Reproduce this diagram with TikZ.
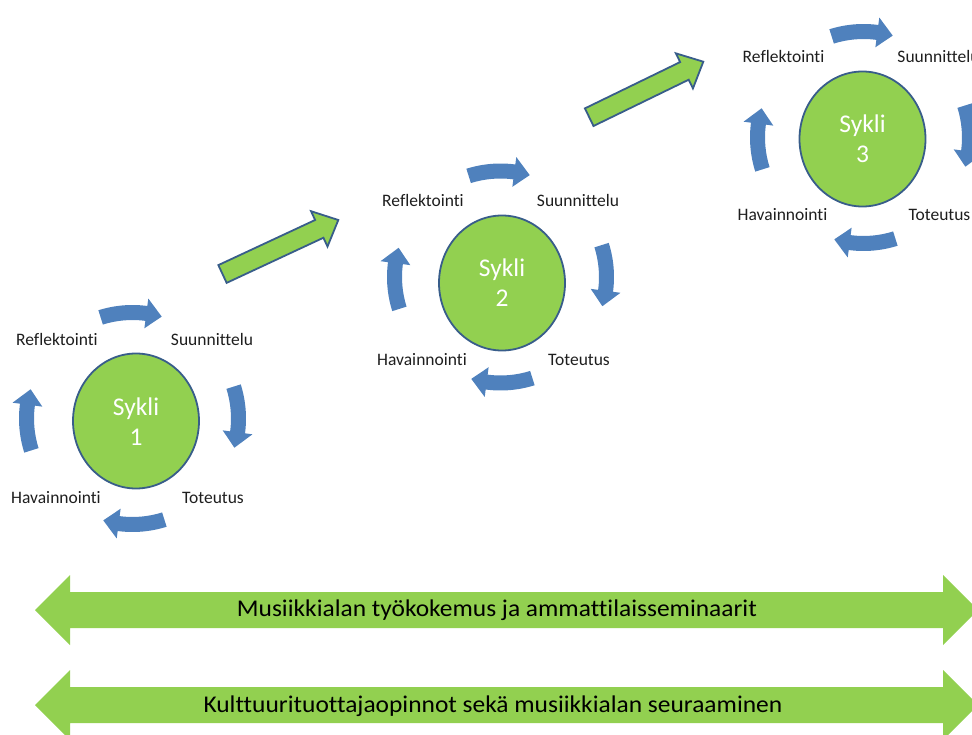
\documentclass[tikz,border=0pt]{standalone}
\usepackage{fontspec}
\setmainfont{Carlito}[Ligatures=NoCommon]
\usetikzlibrary{shapes.geometric,calc}
\definecolor{cgreen}{HTML}{92D050}
\definecolor{cblue}{HTML}{4F81BD}
\definecolor{cedge}{HTML}{385D8A}
\definecolor{ctext}{HTML}{1E1E1E}
\tikzset{
  cyc/.style={ellipse, draw=cedge, line width=1.8pt, fill=cgreen, minimum width=126pt, minimum height=135pt, inner sep=0pt},
  sykli/.style={text=white, font=\fontsize{25.5}{30}\selectfont, inner sep=0pt},
  lab/.style={text=ctext, font=\fontsize{17.5}{20}\selectfont, inner sep=0pt},
  bigtext/.style={text=black, font=\fontsize{24}{28}\selectfont, inner sep=0pt},
  ringarrow/.style={fill=cblue},
  stepgreen/.style={fill=cgreen, draw=cedge, line width=1.8pt, line join=miter},
  band/.style={fill=cgreen}
}
% #1 name, #2 cx, #3 cy, #4 number, #5 ring dx, #6 ring dy
\newcommand\drawcycle[6]{%
  \node[cyc] (#1) at (#2,#3) {};
  \node[sykli, anchor=base] (#1-t) at ($(#1)+(0,-6)$) {Sykli};
  \node[sykli, anchor=base] (#1-n) at ($(#1)+(0,24)$) {#4};
  \node[lab, anchor=base] (#1-r) at ($(#1)+(-79,-76)$) {Reflektointi};
  \node[lab, anchor=base] (#1-s) at ($(#1)+(76,-76)$) {Suunnittelu};
  \node[lab, anchor=base] (#1-h) at ($(#1)+(-80,82)$) {Havainnointi};
  \node[lab, anchor=base] (#1-o) at ($(#1)+(77,82)$) {Toteutus};
  \coordinate (#1-ring) at ($(#1)+(#5,#6)$);
  \begin{scope}[shift={(#1-ring)}]
    \foreach \a in {270,0,90,180}{
      \fill[ringarrow] (\a-17.5:113.5) arc[start angle=\a-17.5, end angle=\a+7.5, radius=113.5]
        -- (\a+7.5:121) -- (\a+16:106) -- (\a+7.5:91) -- (\a+7.5:98.5)
        arc[start angle=\a+7.5, end angle=\a-17.5, radius=98.5] -- cycle;
    }
  \end{scope}
}
% green progress arrow between named coordinates #1 (tail) and #2 (tip)
\newcommand\greenarrow[2]{%
  \coordinate (#1-b) at ($(#2)!21pt!(#1)$);
  \draw[stepgreen]
    ($(#1)!9.8pt!90:(#2)$) -- ($(#1-b)!9.8pt!90:(#2)$) -- ($(#1-b)!19.5pt!90:(#2)$)
    -- (#2) -- ($(#1-b)!19.5pt!-90:(#2)$) -- ($(#1-b)!9.8pt!-90:(#2)$)
    -- ($(#1)!9.8pt!-90:(#2)$) -- cycle;
}
\begin{document}
\begin{tikzpicture}[x=1pt,y=-1pt]
\useasboundingbox (0,0) rectangle (972,735);

\drawcycle{c1}{136}{421}{1}{-3.5}{-2.5}
\drawcycle{c2}{502}{283}{2}{-1.5}{-6}
\drawcycle{c3}{862.5}{139}{3}{1}{-1.5}

% progress arrows
\coordinate (g1) at (222.5,274);
\coordinate (g1tip) at (338.3,220);
\greenarrow{g1}{g1tip}
\coordinate (g2) at (589.2,117.2);
\coordinate (g2tip) at (703.3,61.7);
\greenarrow{g2}{g2tip}

% bottom double arrows
\foreach \dy/\nm in {0/b1,95/b2}{
  \fill[band] (35,610+\dy) -- (70,575+\dy) -- (70,592+\dy) -- (943,592+\dy) -- (943,575+\dy)
    -- (978,610+\dy) -- (943,645+\dy) -- (943,628+\dy) -- (70,628+\dy) -- (70,645+\dy) -- cycle;
}
\node[bigtext, anchor=base west] (t1) at (236.7,616.7) {\scalebox{1.06}[1]{Musiikkialan työkokemus ja ammattilaisseminaarit}};
\node[bigtext, anchor=base west] (t2) at (203.3,712.7) {\scalebox{1.06}[1]{Kulttuurituottajaopinnot sekä musiikkialan seuraaminen}};
\end{tikzpicture}
\end{document}
